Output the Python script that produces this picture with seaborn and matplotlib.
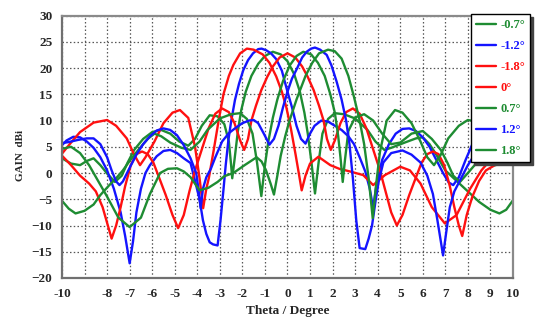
import matplotlib
matplotlib.use("Agg")
import matplotlib.pyplot as plt
import pandas as pd
import seaborn as sns

# gain patterns, (theta in degree, gain in dBi)
beam_m07 = [(-10, 2.8), (-9.6, 1.8), (-9.2, 1.5), (-8.9, 2.3), (-8.6, 2.8), (-8.3, 1.5), (-8.0, -0.1),
            (-7.65, -1.7), (-7.35, -0.5), (-7.1, 1.9), (-6.8, 4.4), (-6.4, 6.5), (-6.0, 7.8), (-5.6, 8.2),
            (-5.2, 7.5), (-4.8, 6.0), (-4.4, 5.2), (-4.1, 6.5), (-3.8, 9.0), (-3.45, 11.0), (-3.1, 10.8),
            (-2.8, 9.3), (-2.6, 6.0), (-2.5, 1.5), (-2.45, -1.0), (-2.35, 2.5), (-2.2, 8.0), (-2.05, 12.0),
            (-1.85, 15.5), (-1.6, 18.5), (-1.3, 20.8), (-1.0, 22.3), (-0.65, 23.1), (-0.3, 22.6), (0.0, 21.3),
            (0.3, 18.8), (0.55, 15.5), (0.75, 11.5), (0.9, 7.5), (1.05, 2.5), (1.22, -3.9), (1.38, 2.0),
            (1.55, 7.5), (1.8, 10.3), (2.1, 11.4), (2.5, 11.2), (3.0, 10.4), (3.55, 8.2), (3.9, 6.0),
            (4.3, 4.4), (4.6, 4.8), (5.2, 5.8), (5.7, 6.6), (6.0, 6.8), (6.3, 5.5), (6.6, 3.5), (7.0, 0.5),
            (7.5, -1.5), (8.0, -3.5), (8.5, -5.5), (9.0, -7.0), (9.4, -7.7), (9.7, -7.0), (10, -5.2)]

beam_m12 = [(-10, 5.3), (-9.8, 6.2), (-9.5, 6.9), (-9.2, 6.8), (-8.9, 6.0), (-8.6, 4.8), (-8.3, 3.0),
            (-8.0, 0.5), (-7.7, -3.0), (-7.4, -7.5), (-7.2, -12.0), (-7.0, -17.2), (-6.85, -13.0),
            (-6.7, -7.5), (-6.5, -3.0), (-6.3, 0.0), (-6.1, 1.5), (-5.8, 3.2), (-5.5, 4.2), (-5.2, 4.4),
            (-4.9, 3.8), (-4.6, 2.8), (-4.3, 1.9), (-4.1, -1.5), (-3.9, -5.0), (-3.75, -9.0), (-3.6, -11.6),
            (-3.45, -13.2), (-3.3, -13.6), (-3.1, -13.8), (-2.97, -9.0), (-2.84, -3.2), (-2.74, 1.5),
            (-2.62, 6.3), (-2.5, 9.8), (-2.33, 13.9), (-2.15, 17.0), (-1.96, 19.6), (-1.75, 21.5),
            (-1.53, 22.8), (-1.3, 23.6), (-1.15, 23.7), (-0.95, 23.4), (-0.73, 22.8), (-0.5, 21.7),
            (-0.25, 19.5), (0.0, 15.5), (0.2, 12.5), (0.4, 9.0), (0.6, 6.5), (0.8, 5.6), (1.0, 7.5),
            (1.2, 9.0), (1.5, 10.0), (1.8, 9.8), (2.1, 9.0), (2.4, 8.2), (2.7, 7.0), (2.95, 5.5), (3.2, 3.0),
            (3.45, 0.3), (3.65, -3.0), (3.8, -6.7), (3.95, -2.0), (4.2, 2.5), (4.5, 5.5), (4.8, 7.5),
            (5.1, 8.4), (5.4, 8.5), (5.7, 8.0), (6.0, 6.8), (6.3, 5.0), (6.6, 2.5), (6.9, 0.0), (7.15, -1.8),
            (7.35, -2.3), (7.6, -0.8), (7.9, 2.5), (8.2, 5.5), (8.5, 6.5), (9.0, 6.8), (9.5, 6.3), (10, 5.6)]

beam_m18 = [(-10, 3.7), (-9.6, 5.8), (-9.2, 7.8), (-8.6, 9.6), (-8.0, 10.1), (-7.6, 9.0), (-7.13, 6.6),
            (-6.8, 3.5), (-6.54, 1.5), (-6.3, 3.0), (-5.9, 6.0), (-5.5, 9.5), (-5.1, 11.5), (-4.77, 12.0),
            (-4.4, 10.5), (-4.1, 5.0), (-3.9, -1.0), (-3.74, -6.7), (-3.6, -3.0), (-3.49, -1.0), (-3.27, 4.4),
            (-3.05, 10.1), (-2.84, 15.0), (-2.6, 18.5), (-2.4, 20.6), (-2.1, 22.8), (-1.8, 23.7), (-1.5, 23.5),
            (-1.1, 22.6), (-0.8, 21.0), (-0.5, 18.4), (-0.25, 15.5), (-0.05, 12.5), (0.15, 8.5), (0.36, 3.5),
            (0.5, 0.0), (0.63, -3.3), (0.8, -0.5), (1.0, 1.8), (1.37, 3.1), (1.9, 1.5), (2.3, 0.8),
            (2.77, 0.3), (3.36, -0.4), (3.8, -2.3), (4.32, -0.4), (5.0, 1.2), (5.43, 0.5), (5.9, -2.0),
            (6.4, -6.5), (6.98, -9.6), (7.5, -8.0), (8.1, -3.0), (8.6, 0.5), (9.1, 3.0), (9.6, 4.5), (10, 5.3)]

beam_0 = [(-10, 3.3), (-9.6, 1.5), (-9.2, -0.5), (-8.8, -2.0), (-8.5, -3.5), (-8.2, -6.5), (-8.0, -9.5),
          (-7.8, -12.5), (-7.6, -10.0), (-7.4, -6.5), (-7.2, -2.5), (-6.95, 1.5), (-6.7, 3.6), (-6.45, 4.1),
          (-6.2, 3.6), (-5.95, 2.0), (-5.7, -0.8), (-5.4, -4.2), (-5.1, -8.0), (-4.85, -10.5), (-4.6, -8.0),
          (-4.35, -3.5), (-4.1, 0.5), (-3.8, 4.5), (-3.5, 8.5), (-3.2, 11.3), (-2.9, 12.3), (-2.6, 11.6),
          (-2.35, 9.5), (-2.1, 6.2), (-1.92, 4.4), (-1.75, 6.5), (-1.6, 10.0), (-1.4, 12.8), (-1.16, 15.8),
          (-0.9, 18.3), (-0.65, 20.3), (-0.35, 22.0), (0.0, 22.8), (0.35, 22.0), (0.65, 20.3), (0.9, 18.3),
          (1.16, 15.8), (1.4, 12.8), (1.6, 10.0), (1.75, 6.5), (1.92, 4.4), (2.1, 6.2), (2.35, 9.5),
          (2.6, 11.6), (2.9, 12.3), (3.2, 11.3), (3.5, 8.5), (3.8, 4.5), (4.1, 0.5), (4.35, -3.5),
          (4.6, -7.5), (4.85, -10.0), (5.1, -8.0), (5.4, -4.2), (5.7, -0.8), (5.95, 2.0), (6.2, 3.6),
          (6.45, 4.1), (6.7, 3.6), (6.95, 1.5), (7.2, -2.5), (7.4, -6.5), (7.6, -10.0), (7.75, -12.0),
          (7.95, -8.0), (8.2, -4.5), (8.5, -1.5), (8.8, 0.5), (9.2, 1.5), (9.6, 2.2), (10, 2.5)]

beam_p07 = [(-10, -5.3), (-9.7, -6.8), (-9.4, -7.7), (-9.0, -7.2), (-8.6, -6.0), (-8.3, -4.2), (-7.9, -2.3),
            (-7.6, -1.0), (-7.3, 0.5), (-7.0, 2.3), (-6.6, 4.5), (-6.2, 6.5), (-5.9, 7.5), (-5.6, 7.0),
            (-5.2, 5.8), (-4.7, 4.8), (-4.3, 4.4), (-3.9, 6.0), (-3.55, 8.2), (-3.0, 10.4), (-2.5, 11.2),
            (-2.1, 11.4), (-1.8, 10.3), (-1.55, 7.5), (-1.35, 2.0), (-1.16, -4.4), (-1.0, 1.5), (-0.85, 6.0),
            (-0.65, 10.5), (-0.45, 14.0), (-0.2, 17.5), (0.1, 20.5), (0.4, 22.3), (0.7, 23.1), (1.05, 22.6),
            (1.35, 21.0), (1.65, 18.5), (1.9, 15.0), (2.1, 11.5), (2.25, 7.0), (2.35, 3.0), (2.45, -1.7),
            (2.55, 2.5), (2.7, 8.0), (3.0, 10.6), (3.4, 11.2), (3.8, 10.0), (4.2, 7.5), (4.6, 5.5),
            (5.0, 5.8), (5.5, 7.5), (6.0, 8.0), (6.4, 6.5), (6.8, 4.4), (7.1, 1.9), (7.35, -0.5),
            (7.65, -1.7), (8.0, 0.0), (8.3, 1.5), (8.6, 2.8), (8.9, 2.3), (9.2, 1.5), (9.6, 1.8), (10, 2.8)]

beam_p12 = [(-10, 5.7), (-9.7, 5.9), (-9.3, 6.3), (-8.9, 6.6), (-8.6, 6.6), (-8.3, 5.5), (-8.0, 3.0),
            (-7.8, 0.5), (-7.6, -1.6), (-7.45, -2.3), (-7.3, -1.6), (-7.0, 1.0), (-6.7, 3.5), (-6.4, 5.5),
            (-6.1, 7.0), (-5.8, 8.1), (-5.5, 8.5), (-5.2, 8.2), (-4.9, 7.2), (-4.6, 5.3), (-4.3, 2.8),
            (-4.05, 0.0), (-3.95, -3.0), (-3.85, -6.7), (-3.75, -3.0), (-3.6, -0.8), (-3.4, 0.8), (-3.2, 3.0),
            (-2.9, 6.0), (-2.6, 7.6), (-2.3, 8.6), (-2.0, 9.5), (-1.7, 10.0), (-1.5, 10.1), (-1.3, 9.5),
            (-1.05, 7.5), (-0.8, 5.4), (-0.6, 6.5), (-0.4, 9.0), (-0.2, 12.5), (0.0, 15.5), (0.2, 18.0),
            (0.41, 19.8), (0.65, 22.0), (0.85, 23.1), (1.05, 23.7), (1.22, 23.9), (1.45, 23.5), (1.74, 22.5),
            (1.95, 20.5), (2.18, 17.4), (2.4, 14.0), (2.6, 10.0), (2.75, 5.5), (2.9, -1.0), (3.05, -9.0),
            (3.2, -14.3), (3.45, -14.5), (3.6, -12.5), (3.75, -10.0), (3.9, -5.5), (4.05, -1.5), (4.25, 2.0),
            (4.6, 3.8), (5.1, 4.3), (5.5, 3.5), (5.9, 2.0), (6.2, -0.5), (6.45, -4.0), (6.65, -9.0),
            (6.8, -13.0), (6.9, -15.7), (7.05, -11.0), (7.2, -6.5), (7.4, -3.5), (7.7, -1.0), (8.0, 1.5),
            (8.3, 3.5), (8.7, 5.0), (9.2, 6.2), (9.6, 6.4), (10, 5.8)]

beam_p18 = [(-10, 4.6), (-9.6, 5.0), (-9.2, 3.8), (-8.8, 1.5), (-8.4, -1.5), (-8.0, -4.5), (-7.5, -8.5),
            (-7.0, -10.3), (-6.5, -8.5), (-6.1, -4.0), (-5.65, 0.0), (-5.3, 0.8), (-4.9, 0.9), (-4.6, 0.3),
            (-4.3, -0.8), (-3.9, -3.3), (-3.5, -2.8), (-3.1, -1.7), (-2.8, -0.6), (-2.4, 0.0), (-1.9, 1.5),
            (-1.37, 3.0), (-1.15, 2.2), (-0.95, 0.5), (-0.75, -2.0), (-0.6, -4.1), (-0.45, -0.5), (-0.3, 3.3),
            (-0.1, 7.0), (0.07, 9.7), (0.4, 14.0), (0.8, 18.5), (1.1, 21.0), (1.4, 22.8), (1.8, 23.5),
            (2.1, 23.2), (2.4, 21.8), (2.7, 18.5), (2.95, 14.5), (3.2, 10.0), (3.4, 5.5), (3.6, -1.0),
            (3.78, -8.6), (3.95, -1.5), (4.1, 4.0), (4.4, 10.0), (4.77, 12.0), (5.1, 11.5), (5.5, 9.5),
            (5.9, 6.0), (6.2, 3.0), (6.5, 1.5), (6.8, 3.5), (7.13, 6.6), (7.6, 9.0), (8.0, 10.1), (8.6, 9.6),
            (9.2, 7.8), (9.6, 5.8), (10, 3.7)]

labels = ["-0.7°", "-1.2°", "-1.8°", "0°", "0.7°", "1.2°", "1.8°"]
beams = [beam_m07, beam_m12, beam_m18, beam_0, beam_p07, beam_p12, beam_p18]
x_ticks = list(range(-10, 11))
x_ticklabels = ["" if t == -9 else str(t) for t in x_ticks]
y_ticks = list(range(-20, 31, 5))

green = "#1e8c32"
blue = "#1414ff"
red = "#ff1010"
palette = {"-0.7°": green, "-1.2°": blue, "-1.8°": red, "0°": red,
           "0.7°": green, "1.2°": blue, "1.8°": green}

rows = []
for lab, pts in zip(labels, beams):
    for t, g in pts:
        rows.append({"theta": t, "gain": g, "beam": lab})
df = pd.DataFrame(rows)

sns.set_style("white")
plt.rcParams["font.family"] = ["Liberation Serif", "DejaVu Serif"]
plt.rcParams["font.weight"] = "bold"

fig = plt.figure(figsize=(5.36, 3.24), dpi=100)
ax = fig.add_axes([0.1157, 0.142, 0.8413, 0.810])

sns.lineplot(data=df, x="theta", y="gain", hue="beam", hue_order=labels,
             palette=palette, estimator=None, linewidth=1.7, legend=False, ax=ax)
for ln in ax.get_lines():
    ln.set_solid_joinstyle("round")

ax.set_xlim(-10, 10)
ax.set_ylim(-20, 30)
ax.set_xticks(x_ticks)
ax.set_xticklabels(x_ticklabels)
ax.set_yticks(y_ticks)
ax.grid(True, linestyle=(0, (1.2, 1.8)), color="#555555", linewidth=0.9)
ax.tick_params(length=0, labelsize=9.5, pad=7)
for lbl in ax.get_xticklabels() + ax.get_yticklabels():
    lbl.set_fontweight("bold")
for s in ax.spines.values():
    s.set_color("#8a8a8a")
    s.set_linewidth(1.6)
ax.spines["left"].set_color("#707070")
ax.spines["bottom"].set_color("#707070")

ax.set_xlabel("Theta / Degree", fontsize=9.5, fontweight="bold", labelpad=4)
ax.set_ylabel("")
fig.text(0.038, 0.52, "GAIN  dBi", rotation=90, ha="center", va="center",
         fontsize=8, fontweight="bold")

handles = ax.get_lines()[:len(labels)]
leg = fig.legend(handles, labels, loc="upper left", bbox_to_anchor=(0.879, 0.957),
                 frameon=True, fancybox=False, framealpha=1, edgecolor="black",
                 shadow={"color": "#444444", "alpha": 1}, fontsize=9,
                 handlelength=1.6, handletextpad=0.3, labelspacing=0.72,
                 borderpad=0.42, borderaxespad=0)
leg.get_frame().set_linewidth(1.0)
for txt, lab in zip(leg.get_texts(), labels):
    txt.set_color(palette[lab])
    txt.set_fontweight("bold")

fig.savefig("out.png", dpi=100)
